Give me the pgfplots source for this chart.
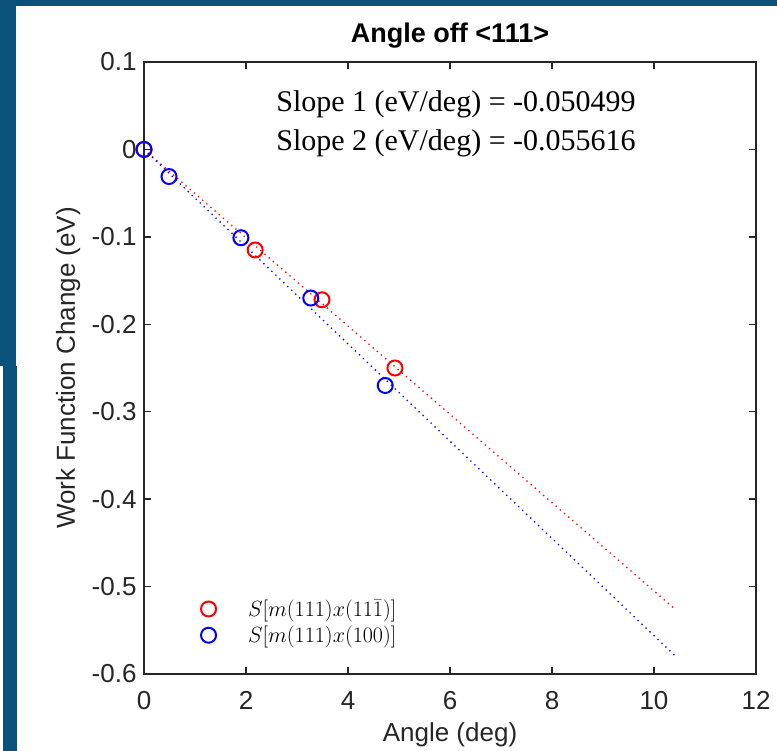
\RequirePackage{fix-cm}
\documentclass[border=0pt]{standalone}
\usepackage{fontspec}
\setmainfont{Liberation Sans}
\newfontfamily\slopefont{Liberation Serif}
\usepackage{pgfplots}
\pgfplotsset{compat=1.18}
\definecolor{slidebg}{RGB}{11,82,122}
\definecolor{axgray}{RGB}{38,38,38}
% legend shows a single circle, with room before the text
\pgfplotsset{markleg/.style={legend image code/.code={%
  \draw[##1] plot coordinates {(0pt,0pt)};
  \path[draw=none] (0pt,0pt) -- (38pt,0pt);}}}

\begin{document}
\begin{tikzpicture}[x=1pt,y=1pt]
\useasboundingbox (0,0) rectangle (777,-751);
\fill[white] (0,0) rectangle (777,-751);
\fill[slidebg] (0,0) rectangle (777,-6);
\fill[slidebg] (0,0) rectangle (16,-366);
\fill[slidebg] (3,-366) rectangle (17,-751);
\begin{axis}[
  at={(144pt,-674pt)}, anchor=south west,
  width=612pt, height=612pt, scale only axis,
  xmin=0, xmax=12, ymin=-0.6, ymax=0.1,
  xtick={0,2,...,12},
  ytick={-0.6,-0.5,-0.4,-0.3,-0.2,-0.1,0,0.1},
  yticklabels={-0.6,-0.5,-0.4,-0.3,-0.2,-0.1,0,0.1},
  /pgf/number format/assume math mode=true,
  tick align=inside, major tick length=7pt,
  axis line style={axgray, line width=1.6pt},
  tick style={axgray, line width=1.4pt},
  tick label style={font=\fontsize{26}{31}\selectfont, text=axgray},
  yticklabel style={xshift=-4pt},
  xticklabel style={yshift=-14pt},
  title={Angle off <111>},
  title style={at={(axis description cs:0.5,1.034)}, anchor=center, font=\fontsize{27}{32}\selectfont\bfseries},
  xlabel={Angle (deg)},
  ylabel={Work Function Change (eV)},
  xlabel style={at={(axis description cs:0.5,-0.1)}, anchor=center, font=\fontsize{26}{31}\selectfont, text=axgray},
  ylabel style={at={(axis description cs:-0.124,0.5)}, anchor=center, font=\fontsize{26}{31}\selectfont, text=axgray},
  legend style={draw=none, fill=none, at={(rel axis cs:0.088,0.085)}, anchor=west,
    font=\fontsize{22}{26}\selectfont, nodes={inner sep=1.5pt}, row sep=5pt},
  legend cell align=left,
]
% linear fits
\addplot[red, line width=1.3pt, dash pattern=on 1.3pt off 4.2pt, forget plot] coordinates {(0,0) (10.4,-0.5252)};
\addplot[blue, line width=1.3pt, dash pattern=on 1.3pt off 4.2pt, forget plot] coordinates {(0,0) (10.4,-0.5784)};
% data
\addplot[red, only marks, mark=o, mark size=7.5pt, line width=2pt, markleg]
  coordinates {(0,0) (2.18,-0.115) (3.49,-0.172) (4.92,-0.250)};
\addlegendentry{$S[m(111)x(11\bar{1})]$}
\addplot[blue, only marks, mark=o, mark size=7.5pt, line width=2pt, markleg]
  coordinates {(0,0) (0.49,-0.031) (1.90,-0.101) (3.27,-0.170) (4.73,-0.270)};
\addlegendentry{$S[m(111)x(100)]$}
\end{axis}
\node[font=\slopefont\fontsize{30}{36}\selectfont] at (456,-104) {Slope 1 (eV/deg) = -0.050499};
\node[font=\slopefont\fontsize{30}{36}\selectfont] at (456,-143) {Slope 2 (eV/deg) = -0.055616};
\end{tikzpicture}
\end{document}
